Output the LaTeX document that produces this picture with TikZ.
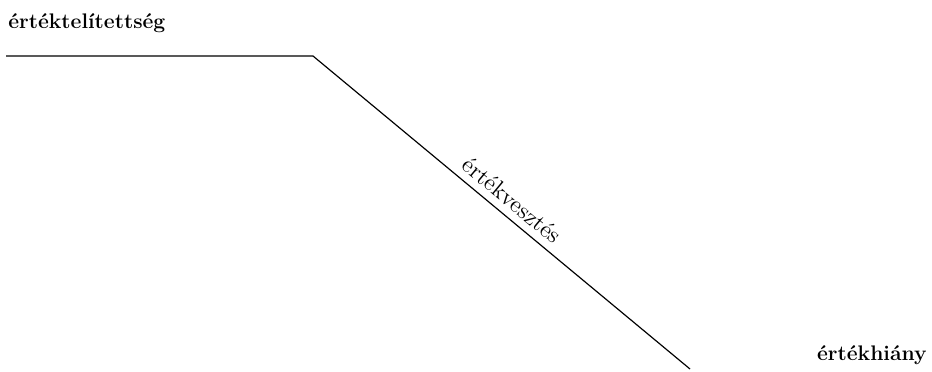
\documentclass[tikz,border=0pt]{standalone}
\usepackage{tikz}
\usetikzlibrary{positioning, calc}

\begin{document}
\begin{tikzpicture}[
    x=0.55pt, y=-0.55pt,
    endlabel/.style={font=\fontsize{11.6}{14}\selectfont\bfseries, inner sep=0pt},
    midlabel/.style={font=\fontsize{13}{16}\selectfont, sloped, above, inner sep=4pt},
    curve/.style={line width=0.65pt}
  ]
    \useasboundingbox (0,0) rectangle (932,371);

    % 曲線の折れ点
    \coordinate (start) at (6,56);
    \coordinate (knee) at (313,56);
    \coordinate (stop) at (690,369);

    % 両端のラベル
    \node[endlabel, anchor=base west] (saturation) at (8,28) {értéktelítettség};
    \node[endlabel, anchor=base east] (shortage) at (927,360) {értékhiány};

    % 水平部分と下降部分
    \draw[curve] (start) -- (knee) -- node[midlabel] (loss) {értékvesztés} (stop);

  \end{tikzpicture}
\end{document}
